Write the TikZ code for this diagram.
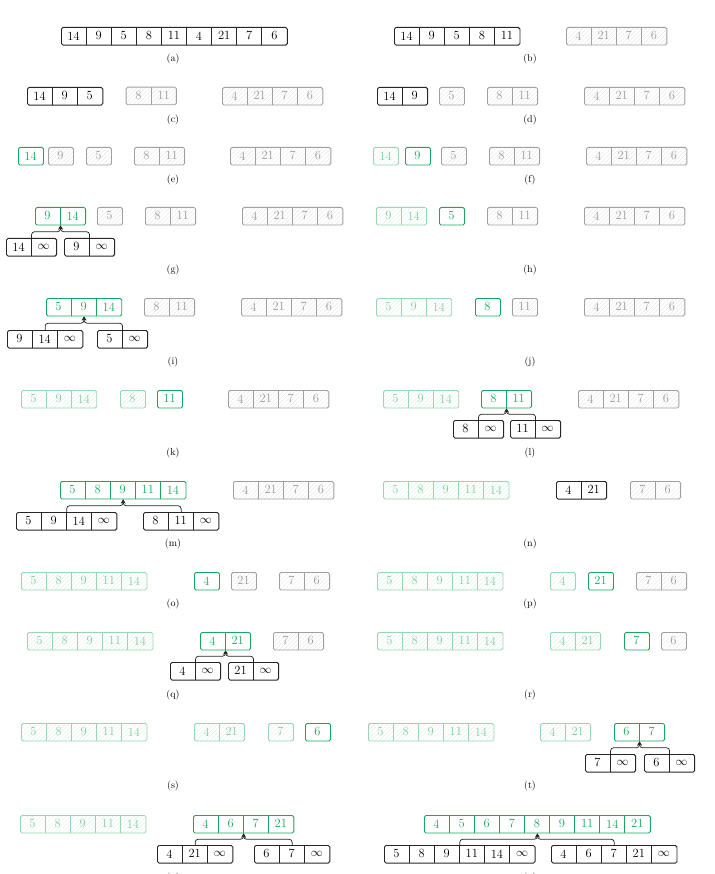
\documentclass[tikz,border=0pt]{standalone}
\usetikzlibrary{calc,arrows.meta,patterns.meta}
\definecolor{grn}{RGB}{22,168,94}
\definecolor{fgrn}{RGB}{150,214,178}
\definecolor{fgrntext}{RGB}{130,204,162}
\definecolor{gfr}{RGB}{160,160,160}
\definecolor{gtx}{RGB}{155,155,155}
\definecolor{hatchg}{RGB}{226,226,226}
\definecolor{hatchf}{RGB}{214,240,225}
\def\cw{25.1}
\def\ch{17.6}
\newcommand{\inft}{$\infty$}
\tikzset{
  frame/.style={inner sep=0pt, minimum height=\ch pt, rounded corners=1.6pt, line width=0.85pt},
  celltext/.style={inner sep=0pt, font=\fontsize{12.5}{14}\selectfont},
  sepline/.style={line width=0.7pt},
  blackframe/.style={draw=black!85, line width=0.95pt},
  blacksep/.style={draw=black!85},
  blacktext/.style={text=black},
  grayframe/.style={draw=gfr, pattern={Lines[angle=45,distance=3pt,line width=0.3pt]}, pattern color=hatchg},
  graysep/.style={draw=gfr},
  graytext/.style={text=gtx},
  greenframe/.style={draw=grn},
  greensep/.style={draw=grn},
  greentext/.style={text=grn},
  fadedframe/.style={draw=fgrn, pattern={Lines[angle=45,distance=3pt,line width=0.3pt]}, pattern color=hatchf},
  fadedsep/.style={draw=fgrn},
  fadedtext/.style={text=fgrntext},
  lab/.style={inner sep=0pt, font=\fontsize{10}{12}\selectfont},
  merge/.style={draw=black!85, line width=0.75pt, rounded corners=3pt, -{Stealth[length=4pt,width=4.5pt]}},
}
% #1 name, #2 x, #3 y, #4 n, #5 kind, #6 list
\newcommand{\arr}[6]{%
  \node[frame, #5frame, minimum width={#4*\cw pt}, anchor=north west] (#1) at (#2,#3) {};
  \foreach \v [count=\i] in {#6} {
    \node[celltext, #5text] (#1-\i) at ($(#1.north west)+({(\i-0.5)*\cw},{\ch/2})$) {\v};
  }
  \ifnum#4>1
    \pgfmathtruncatemacro{\nm}{#4-1}
    \foreach \j in {1,...,\nm} \draw[sepline, #5sep] ($(#1.north west)+({\j*\cw},0)$) -- ++(0,\ch);
  \fi
}
\newcommand{\mergeto}[3]{% target, left, right
  \draw[merge] (#2.north) |- ($(#2.north)!0.5!(#1.south)$) -| (#1.south);
  \draw[merge] (#3.north) |- ($(#3.north)!0.5!(#1.south)$) -| (#1.south);
}
\begin{document}
\begin{tikzpicture}[x=1pt,y=-1pt]
\clip (0,0) rectangle (714,874);
% ---------- left column
% (a)
\arr{a1}{61}{27}{9}{black}{14,9,5,8,11,4,21,7,6}
\node[lab] (la) at (173,59) {(a)};
% (c)
\arr{c1}{27}{87}{3}{black}{14,9,5}
\arr{c2}{126}{87}{2}{gray}{8,11}
\arr{c3}{222}{87}{4}{gray}{4,21,7,6}
\node[lab] (lc) at (173,120) {(c)};
% (e)
\arr{e1}{18}{147}{1}{green}{14}
\arr{e2}{48}{147}{1}{gray}{9}
\arr{e3}{86}{147}{1}{gray}{5}
\arr{e4}{134}{147}{2}{gray}{8,11}
\arr{e5}{230}{147}{4}{gray}{4,21,7,6}
\node[lab] (le) at (173,180) {(e)};
% (g)
\arr{g1}{35}{207}{2}{green}{9,14}
\arr{g2}{97}{207}{1}{gray}{5}
\arr{g3}{145}{207}{2}{gray}{8,11}
\arr{g4}{242}{207}{4}{gray}{4,21,7,6}
\arr{gL}{6}{238}{2}{black}{14,\inft}
\arr{gR}{64}{238}{2}{black}{9,\inft}
\mergeto{g1}{gL}{gR}
\node[lab] (lg) at (173,270) {(g)};
% (i)
\arr{i1}{46}{298}{3}{green}{5,9,14}
\arr{i2}{144}{298}{2}{gray}{8,11}
\arr{i3}{241}{298}{4}{gray}{4,21,7,6}
\arr{iL}{7}{330}{3}{black}{9,14,\inft}
\arr{iR}{97}{330}{2}{black}{5,\inft}
\mergeto{i1}{iL}{iR}
\node[lab] (li) at (173,362) {(i)};
% (k)
\arr{k1}{21}{390}{3}{faded}{5,9,14}
\arr{k2}{120}{390}{1}{faded}{8}
\arr{k3}{157}{390}{1}{green}{11}
\arr{k4}{228}{390}{4}{gray}{4,21,7,6}
\node[lab] (lk) at (173,453) {(k)};
% (m)
\arr{m1}{60}{481}{5}{green}{5,8,9,11,14}
\arr{m2}{233}{481}{4}{gray}{4,21,7,6}
\arr{mL}{16}{512}{4}{black}{5,9,14,\inft}
\arr{mR}{143}{512}{3}{black}{8,11,\inft}
\mergeto{m1}{mL}{mR}
\node[lab] (lm) at (173,544) {(m)};
% (o)
\arr{o1}{21}{572}{5}{faded}{5,8,9,11,14}
\arr{o2}{194}{572}{1}{green}{4}
\arr{o3}{231}{572}{1}{gray}{21}
\arr{o4}{279}{572}{2}{gray}{7,6}
\node[lab] (lo) at (173,604) {(o)};
% (q)
\arr{q1}{27}{632}{5}{faded}{5,8,9,11,14}
\arr{q2}{200}{632}{2}{green}{4,21}
\arr{q3}{273}{632}{2}{gray}{7,6}
\arr{qL}{170}{662}{2}{black}{4,\inft}
\arr{qR}{228}{662}{2}{black}{21,\inft}
\mergeto{q2}{qL}{qR}
\node[lab] (lq) at (173,695) {(q)};
% (s)
\arr{s1}{21}{723}{5}{faded}{5,8,9,11,14}
\arr{s2}{194}{723}{2}{faded}{4,21}
\arr{s3}{268}{723}{1}{faded}{7}
\arr{s4}{305}{723}{1}{green}{6}
\node[lab] (ls) at (173,786) {(s)};
% (u)
\arr{u1}{20}{815}{5}{faded}{5,8,9,11,14}
\arr{u2}{193}{815}{4}{green}{4,6,7,21}
\arr{uL}{157}{845}{3}{black}{4,21,\inft}
\arr{uR}{254}{845}{3}{black}{6,7,\inft}
\mergeto{u2}{uL}{uR}
\node[lab] (lu) at (173,878) {(u)};
% ---------- right column
% (b)
\arr{b1}{394}{27}{5}{black}{14,9,5,8,11}
\arr{b2}{566}{27}{4}{gray}{4,21,7,6}
\node[lab] (lb) at (530,59) {(b)};
% (d)
\arr{d1}{377}{87}{2}{black}{14,9}
\arr{d2}{439}{87}{1}{gray}{5}
\arr{d3}{487}{87}{2}{gray}{8,11}
\arr{d4}{584}{87}{4}{gray}{4,21,7,6}
\node[lab] (ld) at (530,120) {(d)};
% (f)
\arr{f1}{373}{147}{1}{faded}{14}
\arr{f2}{405}{147}{1}{green}{9}
\arr{f3}{441}{147}{1}{gray}{5}
\arr{f4}{489}{147}{2}{gray}{8,11}
\arr{f5}{586}{147}{4}{gray}{4,21,7,6}
\node[lab] (lf) at (530,180) {(f)};
% (h)
\arr{h1}{376}{207}{2}{faded}{9,14}
\arr{h2}{439}{207}{1}{green}{5}
\arr{h3}{487}{207}{2}{gray}{8,11}
\arr{h4}{584}{207}{4}{gray}{4,21,7,6}
\node[lab] (lh) at (530,270) {(h)};
% (j)
\arr{j1}{376}{298}{3}{faded}{5,9,14}
\arr{j2}{475}{298}{1}{green}{8}
\arr{j3}{512}{298}{1}{gray}{11}
\arr{j4}{584}{298}{4}{gray}{4,21,7,6}
\node[lab] (lj) at (530,362) {(j)};
% (l)
\arr{l1}{383}{390}{3}{faded}{5,9,14}
\arr{l2}{481}{390}{2}{green}{8,11}
\arr{l3}{578}{390}{4}{gray}{4,21,7,6}
\arr{lL}{453}{420}{2}{black}{8,\inft}
\arr{lR}{510}{420}{2}{black}{11,\inft}
\mergeto{l2}{lL}{lR}
\node[lab] (ll) at (530,453) {(l)};
% (n)
\arr{n1}{383}{481}{5}{faded}{5,8,9,11,14}
\arr{n2}{556}{481}{2}{black}{4,21}
\arr{n3}{630}{481}{2}{gray}{7,6}
\node[lab] (ln) at (530,544) {(n)};
% (p)
\arr{p1}{377}{572}{5}{faded}{5,8,9,11,14}
\arr{p2}{550}{572}{1}{faded}{4}
\arr{p3}{588}{572}{1}{green}{21}
\arr{p4}{636}{572}{2}{gray}{7,6}
\node[lab] (lp) at (530,604) {(p)};
% (r)
\arr{r1}{377}{632}{5}{faded}{5,8,9,11,14}
\arr{r2}{550}{632}{2}{faded}{4,21}
\arr{r3}{624}{632}{1}{green}{7}
\arr{r4}{661}{632}{1}{gray}{6}
\node[lab] (lr) at (530,695) {(r)};
% (t)
\arr{t1}{368}{723}{5}{faded}{5,8,9,11,14}
\arr{t2}{540}{723}{2}{faded}{4,21}
\arr{t3}{614}{723}{2}{green}{6,7}
\arr{tL}{585}{754}{2}{black}{7,\inft}
\arr{tR}{644}{754}{2}{black}{6,\inft}
\mergeto{t3}{tL}{tR}
\node[lab] (lt) at (530,786) {(t)};
% (v)
\arr{v1}{424}{815}{9}{green}{4,5,6,7,8,9,11,14,21}
\arr{vL}{384}{845}{6}{black}{5,8,9,11,14,\inft}
\arr{vR}{551}{845}{5}{black}{4,6,7,21,\inft}
\mergeto{v1}{vL}{vR}
\node[lab] (lv) at (530,878) {(v)};
\end{tikzpicture}
\end{document}
